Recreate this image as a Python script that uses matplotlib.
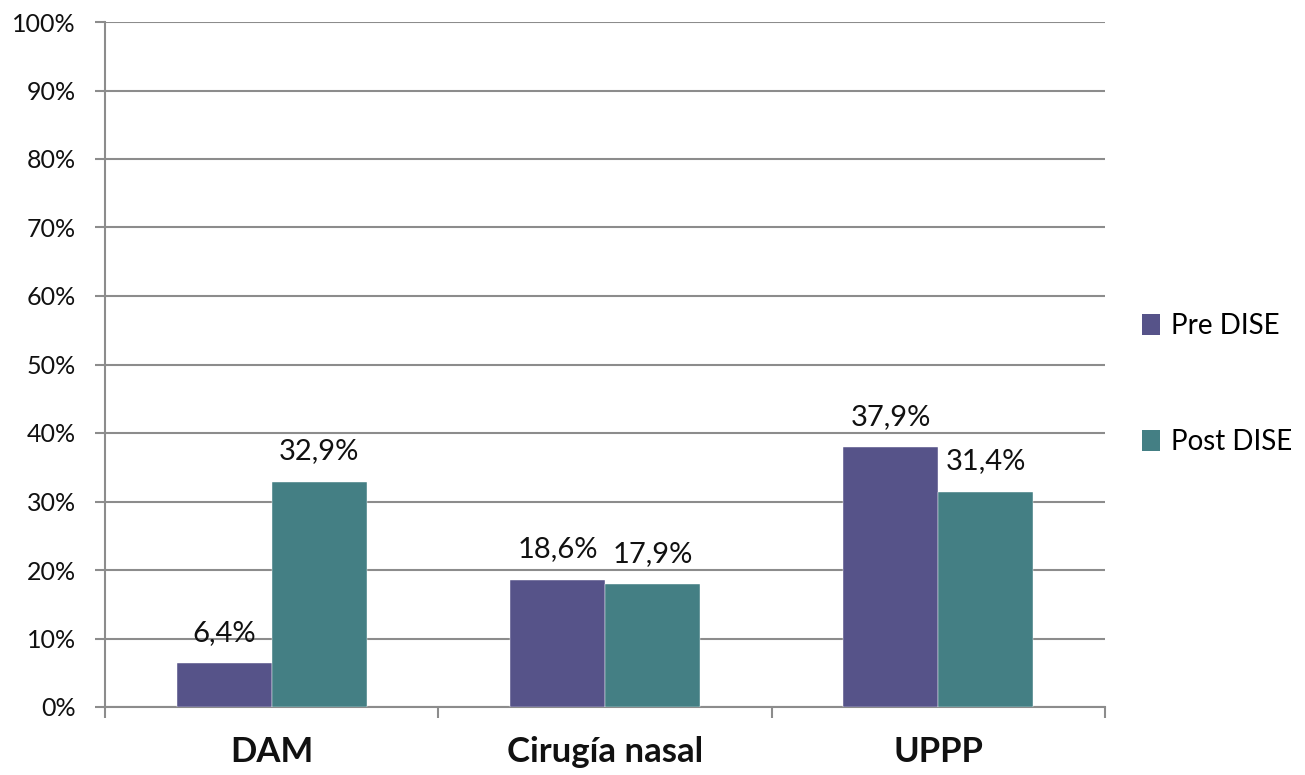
import matplotlib
matplotlib.use("Agg")
import matplotlib.pyplot as plt
import numpy as np
from matplotlib.patches import Patch
from matplotlib.ticker import FixedLocator, PercentFormatter

categories = ["DAM", "Cirugía nasal", "UPPP"]
series = ["Pre DISE", "Post DISE"]
pre_dise = [6.4, 18.6, 37.9]
post_dise = [32.9, 17.9, 31.4]
colors = ["#565389", "#447f84"]

plt.rcParams['font.family'] = ['Lato', 'DejaVu Sans']
grey = "#8c8c8c"

fig = plt.figure(figsize=(13.05, 7.75), dpi=100)
ax = fig.add_axes([105 / 1305, 68 / 775, 1000 / 1305, 685 / 775])

x = np.arange(len(categories))
width = 0.285
for i, (vals, label) in enumerate(zip([pre_dise, post_dise], series)):
    pos = x + (i - 0.5) * width
    bars = ax.bar(pos, vals, width, color=colors[i], label=label, zorder=3,
                  edgecolor="white", linewidth=0.3)
    for b, v in zip(bars, vals):
        ax.annotate(f"{v:.1f}".replace(".", ",") + "%",
                    (b.get_x() + b.get_width() / 2, v),
                    xytext=(0, 22), textcoords="offset points",
                    ha="center", va="center", fontsize=21, color="#111111")

ax.set_xlim(-0.5, len(categories) - 0.5)
ax.set_ylim(0, 100)
ax.set_yticks(np.arange(0, 101, 10))
ax.yaxis.set_major_formatter(PercentFormatter(decimals=0))
ax.yaxis.grid(True, color=grey, linewidth=1.5, zorder=0)
ax.tick_params(axis="y", length=7, width=1.5, color=grey, labelsize=18,
               pad=14, labelcolor="#111111")

# boundaries as major ticks, category names on minor ticks
ax.xaxis.set_major_locator(FixedLocator(np.arange(len(categories) + 1) - 0.5))
ax.xaxis.set_minor_locator(FixedLocator(x))
ax.set_xticklabels([], minor=False)
ax.set_xticklabels(categories, minor=True, fontsize=25, fontweight="bold")
ax.tick_params(axis="x", which="major", length=8, width=1.5, color=grey)
ax.tick_params(axis="x", which="minor", length=0, pad=21, labelcolor="#111111")

for side in ["top", "right"]:
    ax.spines[side].set_visible(False)
for side in ["left", "bottom"]:
    ax.spines[side].set_color(grey)
    ax.spines[side].set_linewidth(1.5)

handles = [Patch(facecolor=c, label=s) for c, s in zip(colors, series)]
fig.legend(handles=handles, loc="center left",
           bbox_to_anchor=(1142 / 1305, 1 - 384 / 775), frameon=False,
           borderpad=0, borderaxespad=0,
           fontsize=20, handlelength=0.65, handleheight=0.8,
           handletextpad=0.4, labelspacing=3.25)

fig.savefig("out.png", dpi=100)
